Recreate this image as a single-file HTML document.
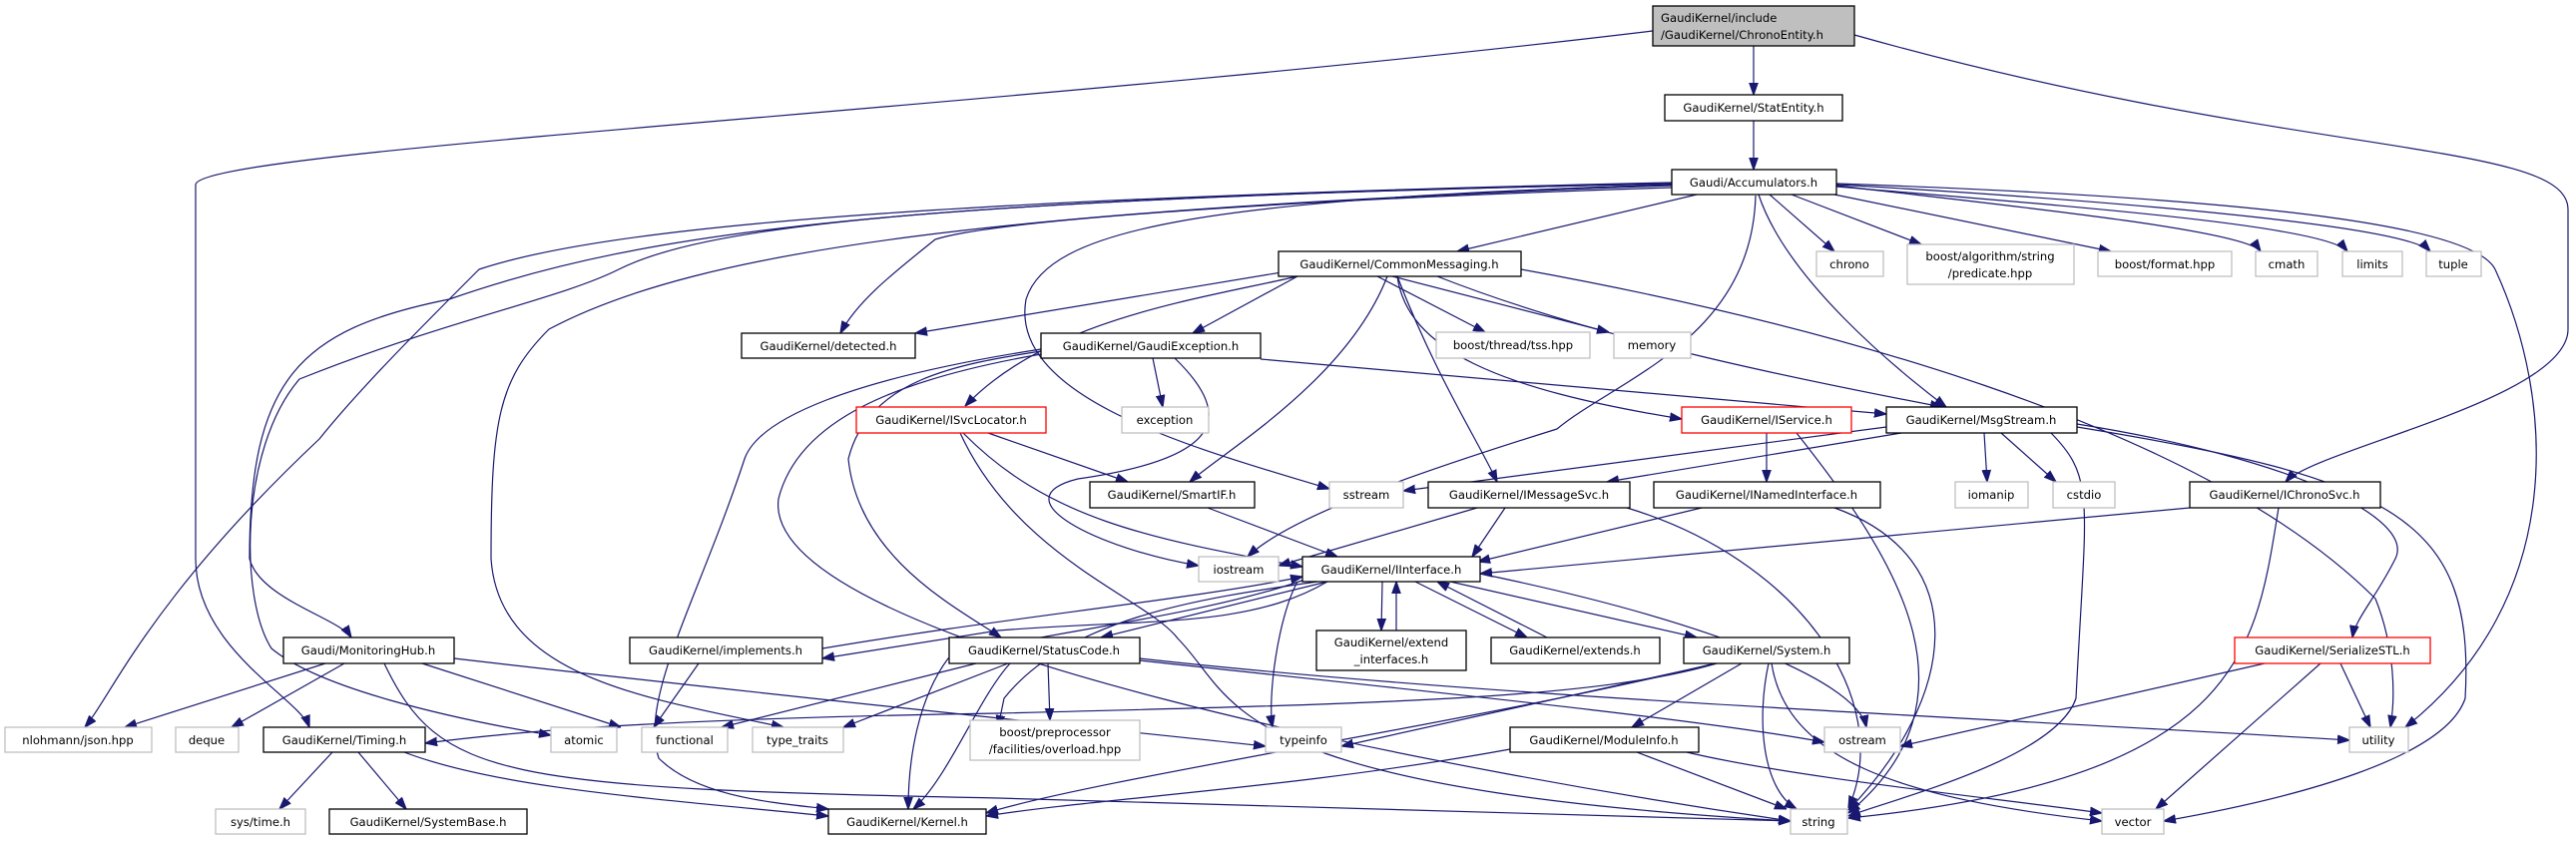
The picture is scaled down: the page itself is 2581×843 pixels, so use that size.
<!DOCTYPE html>
<html><head><meta charset="utf-8"><style>
html,body{margin:0;padding:0;background:#fff;}
svg{display:block;}
text{font-family:"DejaVu Sans","Liberation Sans",sans-serif;font-size:11.6px;fill:#000;}
.n{fill:#fff;stroke:#000;stroke-width:1.3;}
.g{fill:#fff;stroke:#bfbfbf;stroke-width:1.3;}
.r{fill:#fff;stroke:#ff0000;stroke-width:1.3;}
.e{fill:none;stroke:#191970;stroke-width:1.2;}
</style></head><body>
<svg width="2581" height="843" viewBox="0 0 2581 843" xmlns="http://www.w3.org/2000/svg">
<defs><marker id="a" viewBox="0 0 10 10" refX="10" refY="5" markerWidth="12" markerHeight="12" markerUnits="userSpaceOnUse" orient="auto"><path d="M0,1.5 L10,5 L0,8.5 z" fill="#191970" stroke="#191970"/></marker></defs>
<g class="e" marker-end="url(#a)">
<path d="M1757,46 L1757,95"/>
<path d="M1656,31 C1000,110 200,150 196,185 L196,560 C196,650 300,700 310,729"/>
<path d="M1858,35 C2300,160 2573,140 2573,210 L2573,330 C2573,400 2320,450 2290,483"/>
<path d="M1757,121 L1757,170"/>
<path d="M1700,195 L1460,252"/>
<path d="M1773,195 L1838,252"/>
<path d="M1795,195 L1925,245"/>
<path d="M1838,195 L2115,252"/>
<path d="M1840,186 C2000,205 2250,230 2265,252"/>
<path d="M1840,187 C2050,205 2330,225 2352,252"/>
<path d="M1840,185 C2100,200 2410,225 2435,252"/>
<path d="M1840,184 C2300,200 2480,230 2500,270 C2560,400 2573,600 2410,729"/>
<path d="M1762,195 C1790,280 1900,370 1950,408"/>
<path d="M1759,196 C1755,340 1620,380 1560,430 C1400,480 1290,520 1250,558"/>
<path d="M1675,185 C1200,200 1050,230 1028,300 C1010,400 1200,450 1332,490"/>
<path d="M1675,183 C900,200 600,230 480,270 C420,330 360,390 320,440 C150,600 110,700 85,729"/>
<path d="M1675,184 C900,200 700,230 620,270 C560,300 450,320 300,380 C240,450 240,600 272,650 C320,690 450,720 552,737"/>
<path d="M1675,184 C900,200 650,230 450,300 C300,330 250,380 250,560 C260,600 340,620 352,639"/>
<path d="M1675,186 C1000,210 700,250 550,330 C500,380 492,420 492,560 C500,680 650,700 785,729"/>
<path d="M1675,188 C1300,200 1000,220 937,240 C900,270 860,300 842,334"/>
<path d="M1290,272 L917,334"/>
<path d="M1300,277 L1195,334"/>
<path d="M1300,277 C1200,300 1050,320 967,407"/>
<path d="M1380,277 L1488,333"/>
<path d="M1395,277 L1612,333"/>
<path d="M1440,277 C1600,340 1800,380 1946,408"/>
<path d="M1400,277 C1410,350 1500,390 1685,420"/>
<path d="M1400,277 C1440,380 1480,440 1500,483"/>
<path d="M1390,277 C1350,380 1230,450 1192,483"/>
<path d="M1524,270 C1800,320 2200,420 2380,600 C2400,650 2400,700 2395,729"/>
<path d="M1155,359 L1165,408"/>
<path d="M1263,360 L1890,415"/>
<path d="M1177,359 C1240,420 1220,460 1080,480 C1000,500 1100,550 1201,567"/>
<path d="M1043,352 C960,365 870,380 850,460 C860,560 960,610 1003,639"/>
<path d="M1043,355 C900,380 800,420 780,500 C760,650 1500,780 1794,823"/>
<path d="M1043,350 C850,380 760,420 746,460 C700,600 640,700 660,760 C700,800 780,805 830,811"/>
<path d="M990,434 L1130,483"/>
<path d="M965,434 C1050,520 1150,540 1305,568"/>
<path d="M962,434 C1020,560 1150,600 1180,640 C1240,700 1220,790 1794,823"/>
<path d="M1890,428 L1406,492"/>
<path d="M1905,434 L1610,483"/>
<path d="M1988,434 L1991,483"/>
<path d="M2005,434 L2060,483"/>
<path d="M2055,434 C2100,480 2090,500 2080,700 C2060,760 1900,800 1852,818"/>
<path d="M2081,425 C2300,460 2420,520 2400,560 C2380,600 2360,620 2357,639"/>
<path d="M2081,428 C2400,480 2480,520 2470,700 C2450,760 2300,800 2168,823"/>
<path d="M1770,434 L1770,483"/>
<path d="M1800,434 C1900,560 1990,700 1852,815"/>
<path d="M1480,509 L1281,567"/>
<path d="M1508,509 L1475,558"/>
<path d="M1630,509 C1800,560 1900,700 1852,810"/>
<path d="M1705,509 L1481,563"/>
<path d="M1838,509 C1980,560 1960,700 1852,812"/>
<path d="M2194,509 L1483,575"/>
<path d="M2283,509 C2260,650 2250,780 1852,820"/>
<path d="M1210,509 L1340,558"/>
<path d="M1330,583 C1250,630 1150,620 1000,632 L824,660"/>
<path d="M824,650 C1000,620 1200,600 1305,578"/>
<path d="M1385,583 L1384,632"/>
<path d="M1399,632 L1399,583"/>
<path d="M1418,583 L1530,639"/>
<path d="M1550,639 L1440,583"/>
<path d="M1453,583 L1700,639"/>
<path d="M1330,583 L1103,639"/>
<path d="M1320,583 C1200,600 1070,620 1006,700 L1000,729"/>
<path d="M1300,583 C1280,620 1270,700 1275,729"/>
<path d="M1310,580 C1200,620 1000,640 950,660 C920,700 910,760 910,811"/>
<path d="M1483,575 C1700,620 1860,680 1870,729"/>
<path d="M700,665 L655,729"/>
<path d="M978,665 L723,729"/>
<path d="M1010,665 L845,729"/>
<path d="M1012,665 C980,700 950,780 915,811"/>
<path d="M1050,665 L1052,722"/>
<path d="M1142,662 C1400,690 1700,720 1828,744"/>
<path d="M1142,660 C1500,700 2000,720 2354,742"/>
<path d="M1720,665 C1600,700 1400,705 1000,715 C700,720 540,730 426,745"/>
<path d="M1720,665 L1344,748"/>
<path d="M1718,665 C1500,720 1100,780 988,815"/>
<path d="M1745,665 L1635,729"/>
<path d="M1772,665 C1760,720 1765,790 1800,811"/>
<path d="M1775,665 C1790,760 1900,800 2106,823"/>
<path d="M326,665 L125,729"/>
<path d="M345,665 L232,729"/>
<path d="M423,665 L622,729"/>
<path d="M455,660 C800,700 1100,730 1268,748"/>
<path d="M385,665 C440,780 500,790 1000,800 C1300,810 1600,818 1794,823"/>
<path d="M333,754 L280,811"/>
<path d="M359,754 L407,811"/>
<path d="M405,754 C500,790 650,800 830,818"/>
<path d="M1513,751 C1300,790 1100,800 988,818"/>
<path d="M1640,754 L1790,811"/>
<path d="M1690,754 C1800,780 2000,800 2106,815"/>
<path d="M2269,665 L1904,748"/>
<path d="M2345,665 L2375,729"/>
<path d="M2325,665 L2160,811"/>
</g>
<g>
<rect x="1656" y="6" width="202" height="40" style="fill:#bfbfbf;stroke:#000;stroke-width:1.3"/>
<text x="1664" y="22">GaudiKernel/include</text><text x="1664" y="39">/GaudiKernel/ChronoEntity.h</text>
<rect class="n" x="1668" y="95" width="178" height="26"/><text x="1757" y="112" text-anchor="middle">GaudiKernel/StatEntity.h</text>
<rect class="n" x="1675" y="170" width="165" height="25"/><text x="1757" y="187" text-anchor="middle">Gaudi/Accumulators.h</text>
<rect class="n" x="1281" y="252" width="243" height="25"/><text x="1402" y="269" text-anchor="middle">GaudiKernel/CommonMessaging.h</text>
<rect class="g" x="1820" y="252" width="67" height="25"/><text x="1853" y="269" text-anchor="middle">chrono</text>
<rect class="g" x="1911" y="245" width="167" height="40"/><text x="1994" y="261" text-anchor="middle">boost/algorithm/string</text><text x="1994" y="278" text-anchor="middle">/predicate.hpp</text>
<rect class="g" x="2102" y="252" width="134" height="25"/><text x="2169" y="269" text-anchor="middle">boost/format.hpp</text>
<rect class="g" x="2260" y="252" width="62" height="25"/><text x="2291" y="269" text-anchor="middle">cmath</text>
<rect class="g" x="2347" y="252" width="60" height="25"/><text x="2377" y="269" text-anchor="middle">limits</text>
<rect class="g" x="2431" y="252" width="55" height="25"/><text x="2458" y="269" text-anchor="middle">tuple</text>
<rect class="g" x="1439" y="333" width="154" height="26"/><text x="1516" y="350" text-anchor="middle">boost/thread/tss.hpp</text>
<rect class="g" x="1617" y="333" width="77" height="26"/><text x="1655" y="350" text-anchor="middle">memory</text>
<rect class="n" x="743" y="334" width="174" height="25"/><text x="830" y="351" text-anchor="middle">GaudiKernel/detected.h</text>
<rect class="n" x="1043" y="334" width="220" height="25"/><text x="1153" y="351" text-anchor="middle">GaudiKernel/GaudiException.h</text>
<rect class="r" x="858" y="408" width="190" height="26"/><text x="953" y="425" text-anchor="middle">GaudiKernel/ISvcLocator.h</text>
<rect class="g" x="1124" y="408" width="87" height="26"/><text x="1167" y="425" text-anchor="middle">exception</text>
<rect class="r" x="1685" y="408" width="170" height="26"/><text x="1770" y="425" text-anchor="middle">GaudiKernel/IService.h</text>
<rect class="n" x="1890" y="408" width="191" height="26"/><text x="1985" y="425" text-anchor="middle">GaudiKernel/MsgStream.h</text>
<rect class="n" x="1092" y="483" width="165" height="26"/><text x="1174" y="500" text-anchor="middle">GaudiKernel/SmartIF.h</text>
<rect class="g" x="1332" y="483" width="74" height="26"/><text x="1369" y="500" text-anchor="middle">sstream</text>
<rect class="n" x="1431" y="483" width="202" height="26"/><text x="1532" y="500" text-anchor="middle">GaudiKernel/IMessageSvc.h</text>
<rect class="n" x="1657" y="483" width="227" height="26"/><text x="1770" y="500" text-anchor="middle">GaudiKernel/INamedInterface.h</text>
<rect class="g" x="1959" y="483" width="73" height="26"/><text x="1995" y="500" text-anchor="middle">iomanip</text>
<rect class="g" x="2057" y="483" width="62" height="26"/><text x="2088" y="500" text-anchor="middle">cstdio</text>
<rect class="n" x="2194" y="483" width="191" height="26"/><text x="2289" y="500" text-anchor="middle">GaudiKernel/IChronoSvc.h</text>
<rect class="g" x="1201" y="558" width="80" height="25"/><text x="1241" y="575" text-anchor="middle">iostream</text>
<rect class="n" x="1305" y="558" width="178" height="25"/><text x="1394" y="575" text-anchor="middle">GaudiKernel/IInterface.h</text>
<rect class="n" x="284" y="639" width="171" height="26"/><text x="369" y="656" text-anchor="middle">Gaudi/MonitoringHub.h</text>
<rect class="n" x="631" y="639" width="193" height="26"/><text x="727" y="656" text-anchor="middle">GaudiKernel/implements.h</text>
<rect class="n" x="951" y="639" width="191" height="26"/><text x="1046" y="656" text-anchor="middle">GaudiKernel/StatusCode.h</text>
<rect class="n" x="1319" y="632" width="150" height="40"/><text x="1394" y="648" text-anchor="middle">GaudiKernel/extend</text><text x="1394" y="665" text-anchor="middle">_interfaces.h</text>
<rect class="n" x="1494" y="639" width="169" height="26"/><text x="1578" y="656" text-anchor="middle">GaudiKernel/extends.h</text>
<rect class="n" x="1687" y="639" width="166" height="26"/><text x="1770" y="656" text-anchor="middle">GaudiKernel/System.h</text>
<rect class="r" x="2239" y="639" width="196" height="26"/><text x="2337" y="656" text-anchor="middle">GaudiKernel/SerializeSTL.h</text>
<rect class="g" x="5" y="729" width="147" height="25"/><text x="78" y="746" text-anchor="middle">nlohmann/json.hpp</text>
<rect class="g" x="176" y="729" width="63" height="25"/><text x="207" y="746" text-anchor="middle">deque</text>
<rect class="n" x="264" y="729" width="162" height="25"/><text x="345" y="746" text-anchor="middle">GaudiKernel/Timing.h</text>
<rect class="g" x="552" y="729" width="66" height="25"/><text x="585" y="746" text-anchor="middle">atomic</text>
<rect class="g" x="643" y="729" width="86" height="25"/><text x="686" y="746" text-anchor="middle">functional</text>
<rect class="g" x="754" y="729" width="91" height="25"/><text x="799" y="746" text-anchor="middle">type_traits</text>
<rect class="g" x="972" y="722" width="170" height="40"/><text x="1057" y="738" text-anchor="middle">boost/preprocessor</text><text x="1057" y="755" text-anchor="middle">/facilities/overload.hpp</text>
<rect class="g" x="1268" y="729" width="76" height="25"/><text x="1306" y="746" text-anchor="middle">typeinfo</text>
<rect class="n" x="1513" y="729" width="189" height="25"/><text x="1607" y="746" text-anchor="middle">GaudiKernel/ModuleInfo.h</text>
<rect class="g" x="1828" y="729" width="76" height="25"/><text x="1866" y="746" text-anchor="middle">ostream</text>
<rect class="g" x="2354" y="729" width="59" height="25"/><text x="2383" y="746" text-anchor="middle">utility</text>
<rect class="g" x="216" y="811" width="90" height="25"/><text x="261" y="828" text-anchor="middle">sys/time.h</text>
<rect class="n" x="330" y="811" width="198" height="25"/><text x="429" y="828" text-anchor="middle">GaudiKernel/SystemBase.h</text>
<rect class="n" x="830" y="811" width="158" height="25"/><text x="909" y="828" text-anchor="middle">GaudiKernel/Kernel.h</text>
<rect class="g" x="1794" y="811" width="57" height="25"/><text x="1822" y="828" text-anchor="middle">string</text>
<rect class="g" x="2106" y="811" width="62" height="25"/><text x="2137" y="828" text-anchor="middle">vector</text>
</g>
</svg>
</body></html>
